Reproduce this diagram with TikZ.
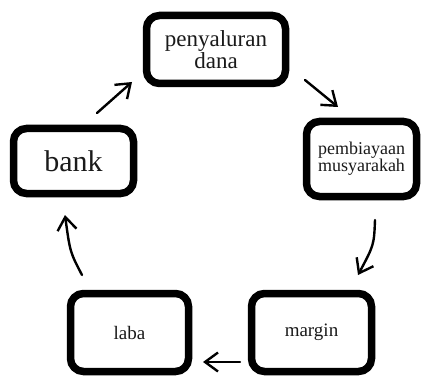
\documentclass[tikz,border=0pt]{standalone}
\usepackage{fontspec}
\setmainfont{Liberation Serif}
\usetikzlibrary{arrows.meta,shadows}
\definecolor{txt}{HTML}{1A1A1A}
\tikzset{
  box/.style={draw=black, line width=7.5pt, rounded corners=13pt, fill=white,
    align=center, text=txt, inner sep=0pt,
    drop shadow={shadow xshift=1pt, shadow yshift=-3pt, opacity=0.3, fill=black}},
  flow/.style={line width=2.4pt, line cap=round, -{Straight Barb[length=13pt,width=19pt,line width=2.4pt]}}
}
\begin{document}
\begin{tikzpicture}[x=1pt,y=-1pt]
\useasboundingbox (0,0) rectangle (423,377);
\node[box, minimum width=139pt, minimum height=68pt, font=\fontsize{23}{22}\selectfont] (pd) at (216,49.5) {penyaluran\\dana};
\node[box, minimum width=110pt, minimum height=75pt, font=\fontsize{18}{15.5}\selectfont] (pm) at (361.5,159) {pembiayaan\\musyarakah};
\node[box, minimum width=120pt, minimum height=65pt, font=\fontsize{30}{32}\selectfont] (bk) at (73.5,161) {bank};
\node[box, minimum width=118pt, minimum height=78pt, font=\fontsize{19}{20}\selectfont] (lb) at (129.5,332.5) {laba};
\node[box, minimum width=120pt, minimum height=78pt, font=\fontsize{19}{20}\selectfont] (mg) at (311.5,332.5) {margin};
\coordinate (a1s) at (97,113); \coordinate (a1e) at (132,82);
\coordinate (a2s) at (305,80); \coordinate (a2e) at (338,107);
\coordinate (a3s) at (375,220); \coordinate (a3e) at (358,275);
\coordinate (a4s) at (82,275); \coordinate (a4e) at (65,215);
\coordinate (a5s) at (240,362); \coordinate (a5e) at (203,362);
\draw[flow] (a1s) -- (a1e);
\draw[flow] (a2s) -- (a2e);
\draw[flow] (a3s) .. controls (374,245) .. (a3e);
\draw[flow] (a4s) .. controls (70,252) .. (a4e);
\draw[flow] (a5s) -- (a5e);
\end{tikzpicture}
\end{document}
